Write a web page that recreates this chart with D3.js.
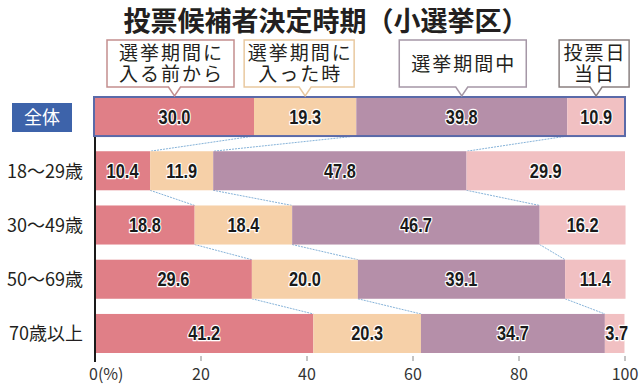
<!DOCTYPE html>
<html>
<head>
<meta charset="utf-8">
<script src="https://cdn.jsdelivr.net/npm/d3@7"></script>
<style>
  body { margin: 0; background: #fff; }
  svg { display: block; }
</style>
</head>
<body>
<script>
// chart data
var rows = ["全体", "18〜29歳", "30〜49歳", "50〜69歳", "70歳以上"];
var before = [30.0, 10.4, 18.8, 29.6, 41.2];   // 選挙期間に入る前から
var entered = [19.3, 11.9, 18.4, 20.0, 20.3];  // 選挙期間に入った時
var during = [39.8, 47.8, 46.7, 39.1, 34.7];   // 選挙期間中
var dayOf = [10.9, 29.9, 16.2, 11.4, 3.7];     // 投票日当日
var categories = [["選挙期間に", "入る前から"], ["選挙期間に", "入った時"], ["選挙期間中"], ["投票日", "当日"]];
var ticks = [0, 20, 40, 60, 80, 100];
var title = "投票候補者決定時期（小選挙区）";

var width = 640, height = 386;
var colors = ["#e07f87", "#f6d0a8", "#b58fa9", "#f1c0c2"];
var boxStroke = ["#c48e8e", "#e9c9a0", "#a597a6", "#8a8080"];
var jp = "'Noto Sans CJK JP', 'Noto Sans', sans-serif";
var num = "'Liberation Sans', Arial, sans-serif";

var svg = d3.select("body").append("svg")
    .attr("width", width)
    .attr("height", height);

var x = d3.scaleLinear().domain([0, 100]).range([95, 625]);
var y = d3.scaleBand().domain(rows).range([97, 353]).paddingInner(0.28);

// build stacked table
var table = rows.map(function(r, i){
    return {row: r, a: before[i], b: entered[i], c: during[i], d: dayOf[i]};
});
var stack = d3.stack().keys(["a", "b", "c", "d"])(table);

// title
svg.append("text")
    .attr("x", 326)
    .attr("y", 31)
    .attr("text-anchor", "middle")
    .style("font-family", jp)
    .style("font-weight", "700")
    .style("font-size", "27px")
    .style("fill", "#231f20")
    .text(title);

// dotted connectors between rows
var conn = svg.append("g");
for (var i = 0; i < rows.length - 1; i++){
    for (var k = 0; k < 3; k++){
        conn.append("line")
            .attr("x1", x(stack[k][i][1]))
            .attr("y1", y(rows[i]) + y.bandwidth())
            .attr("x2", x(stack[k][i + 1][1]))
            .attr("y2", y(rows[i + 1]))
            .attr("stroke", "#86b3d9")
            .attr("stroke-width", 1)
            .attr("stroke-dasharray", "2,1");
    }
}

// bars
var layers = svg.selectAll(".layer")
    .data(stack)
    .enter()
    .append("g")
    .attr("class", "layer")
    .attr("fill", function(d, i){ return colors[i]; });

layers.selectAll("rect")
    .data(function(d){ return d; })
    .enter()
    .append("rect")
    .attr("x", function(d){ return x(d[0]); })
    .attr("y", function(d){ return y(d.data.row); })
    .attr("width", function(d){ return x(d[1]) - x(d[0]); })
    .attr("height", y.bandwidth());

// border around 全体
svg.append("rect")
    .attr("x", x(0) - 1)
    .attr("y", y(rows[0]))
    .attr("width", x(100) - x(0) + 1)
    .attr("height", y.bandwidth())
    .attr("fill", "none")
    .attr("stroke", "#5a6aa9")
    .attr("stroke-width", 2);

// value labels (narrowed like a condensed face)
layers.selectAll("text")
    .data(function(d){ return d; })
    .enter()
    .append("text")
    .attr("transform", function(d){
        var cx = (x(d[0]) + x(d[1])) / 2 + (d[1] - d[0] < 5 ? 2 : 0);
        var cy = y(d.data.row) + y.bandwidth() / 2 + 7;
        return "translate(" + cx + "," + cy + ") scale(0.82,1)";
    })
    .attr("text-anchor", "middle")
    .style("font-family", num)
    .style("font-weight", "700")
    .style("font-size", "20px")
    .style("fill", "#1a1a1a")
    .style("stroke", "#fff")
    .style("stroke-width", 2.5)
    .style("paint-order", "stroke")
    .style("stroke-linejoin", "round")
    .text(function(d){ return (d[1] - d[0]).toFixed(1); });

// axis line
svg.append("line")
    .attr("x1", x(0)).attr("x2", x(0))
    .attr("y1", y(rows[0]) + y.bandwidth() + 1)
    .attr("y2", 362)
    .attr("stroke", "#1a1a1a")
    .attr("stroke-width", 2);

// ticks
var tickG = svg.append("g");
tickG.selectAll("line")
    .data(ticks.slice(1))
    .enter()
    .append("line")
    .attr("x1", function(d){ return x(d); })
    .attr("x2", function(d){ return x(d); })
    .attr("y1", 356).attr("y2", 361)
    .attr("stroke", "#888")
    .attr("stroke-width", 1);

tickG.selectAll("text")
    .data(ticks)
    .enter()
    .append("text")
    .attr("x", function(d){ return d === 0 ? x(d) - 6 : x(d); })
    .attr("y", 380)
    .attr("text-anchor", function(d){ return d === 0 ? "start" : "middle"; })
    .style("font-family", jp)
    .style("font-size", "16px")
    .style("fill", "#333")
    .text(function(d){ return d === 0 ? "0(%)" : d; });

// row labels
svg.append("rect")
    .attr("x", 12).attr("y", 103)
    .attr("width", 60).attr("height", 29)
    .attr("fill", "#3d63aa");

svg.selectAll(".rowlabel")
    .data(rows)
    .enter()
    .append("text")
    .attr("class", "rowlabel")
    .attr("x", function(d, i){ return i === 0 ? 42 : 83; })
    .attr("y", function(d){ return y(d) + y.bandwidth() / 2 + 7; })
    .attr("text-anchor", function(d, i){ return i === 0 ? "middle" : "end"; })
    .style("font-family", jp)
    .style("font-size", "18px")
    .style("fill", function(d, i){ return i === 0 ? "#fff" : "#231f20"; })
    .text(function(d){ return d; });

// category callouts above 全体
var boxW = [127, 110, 127, 70];
var boxDx = [-4, -6, 1, -2];
var boxTop = 40, boxBot = 87;
var tipY = y(rows[0]) - 1;

categories.forEach(function(lines, i){
    var s = stack[i][0];
    var px = (x(s[0]) + x(s[1])) / 2;
    var cx = px + boxDx[i];
    var l = cx - boxW[i] / 2, r = cx + boxW[i] / 2;
    var path = d3.path();
    path.moveTo(l, boxTop);
    path.lineTo(r, boxTop);
    path.lineTo(r, boxBot);
    path.lineTo(px + 6, boxBot);
    path.lineTo(px, tipY);
    path.lineTo(px - 6, boxBot);
    path.lineTo(l, boxBot);
    path.closePath();
    svg.append("path")
        .attr("d", path.toString())
        .attr("fill", "#fff")
        .attr("stroke", boxStroke[i])
        .attr("stroke-width", 1.5);

    var t = svg.append("text")
        .attr("text-anchor", "middle")
        .style("font-family", jp)
        .style("font-size", "19px")
        .style("letter-spacing", "2px")
        .style("fill", "#231f20");
    var lh = 21;
    var y0 = (boxTop + boxBot) / 2 - (lines.length - 1) * lh / 2 + 7;
    lines.forEach(function(line, j){
        t.append("tspan")
            .attr("x", cx + 1)
            .attr("y", y0 + j * lh)
            .text(line);
    });
});
</script>
</body>
</html>
